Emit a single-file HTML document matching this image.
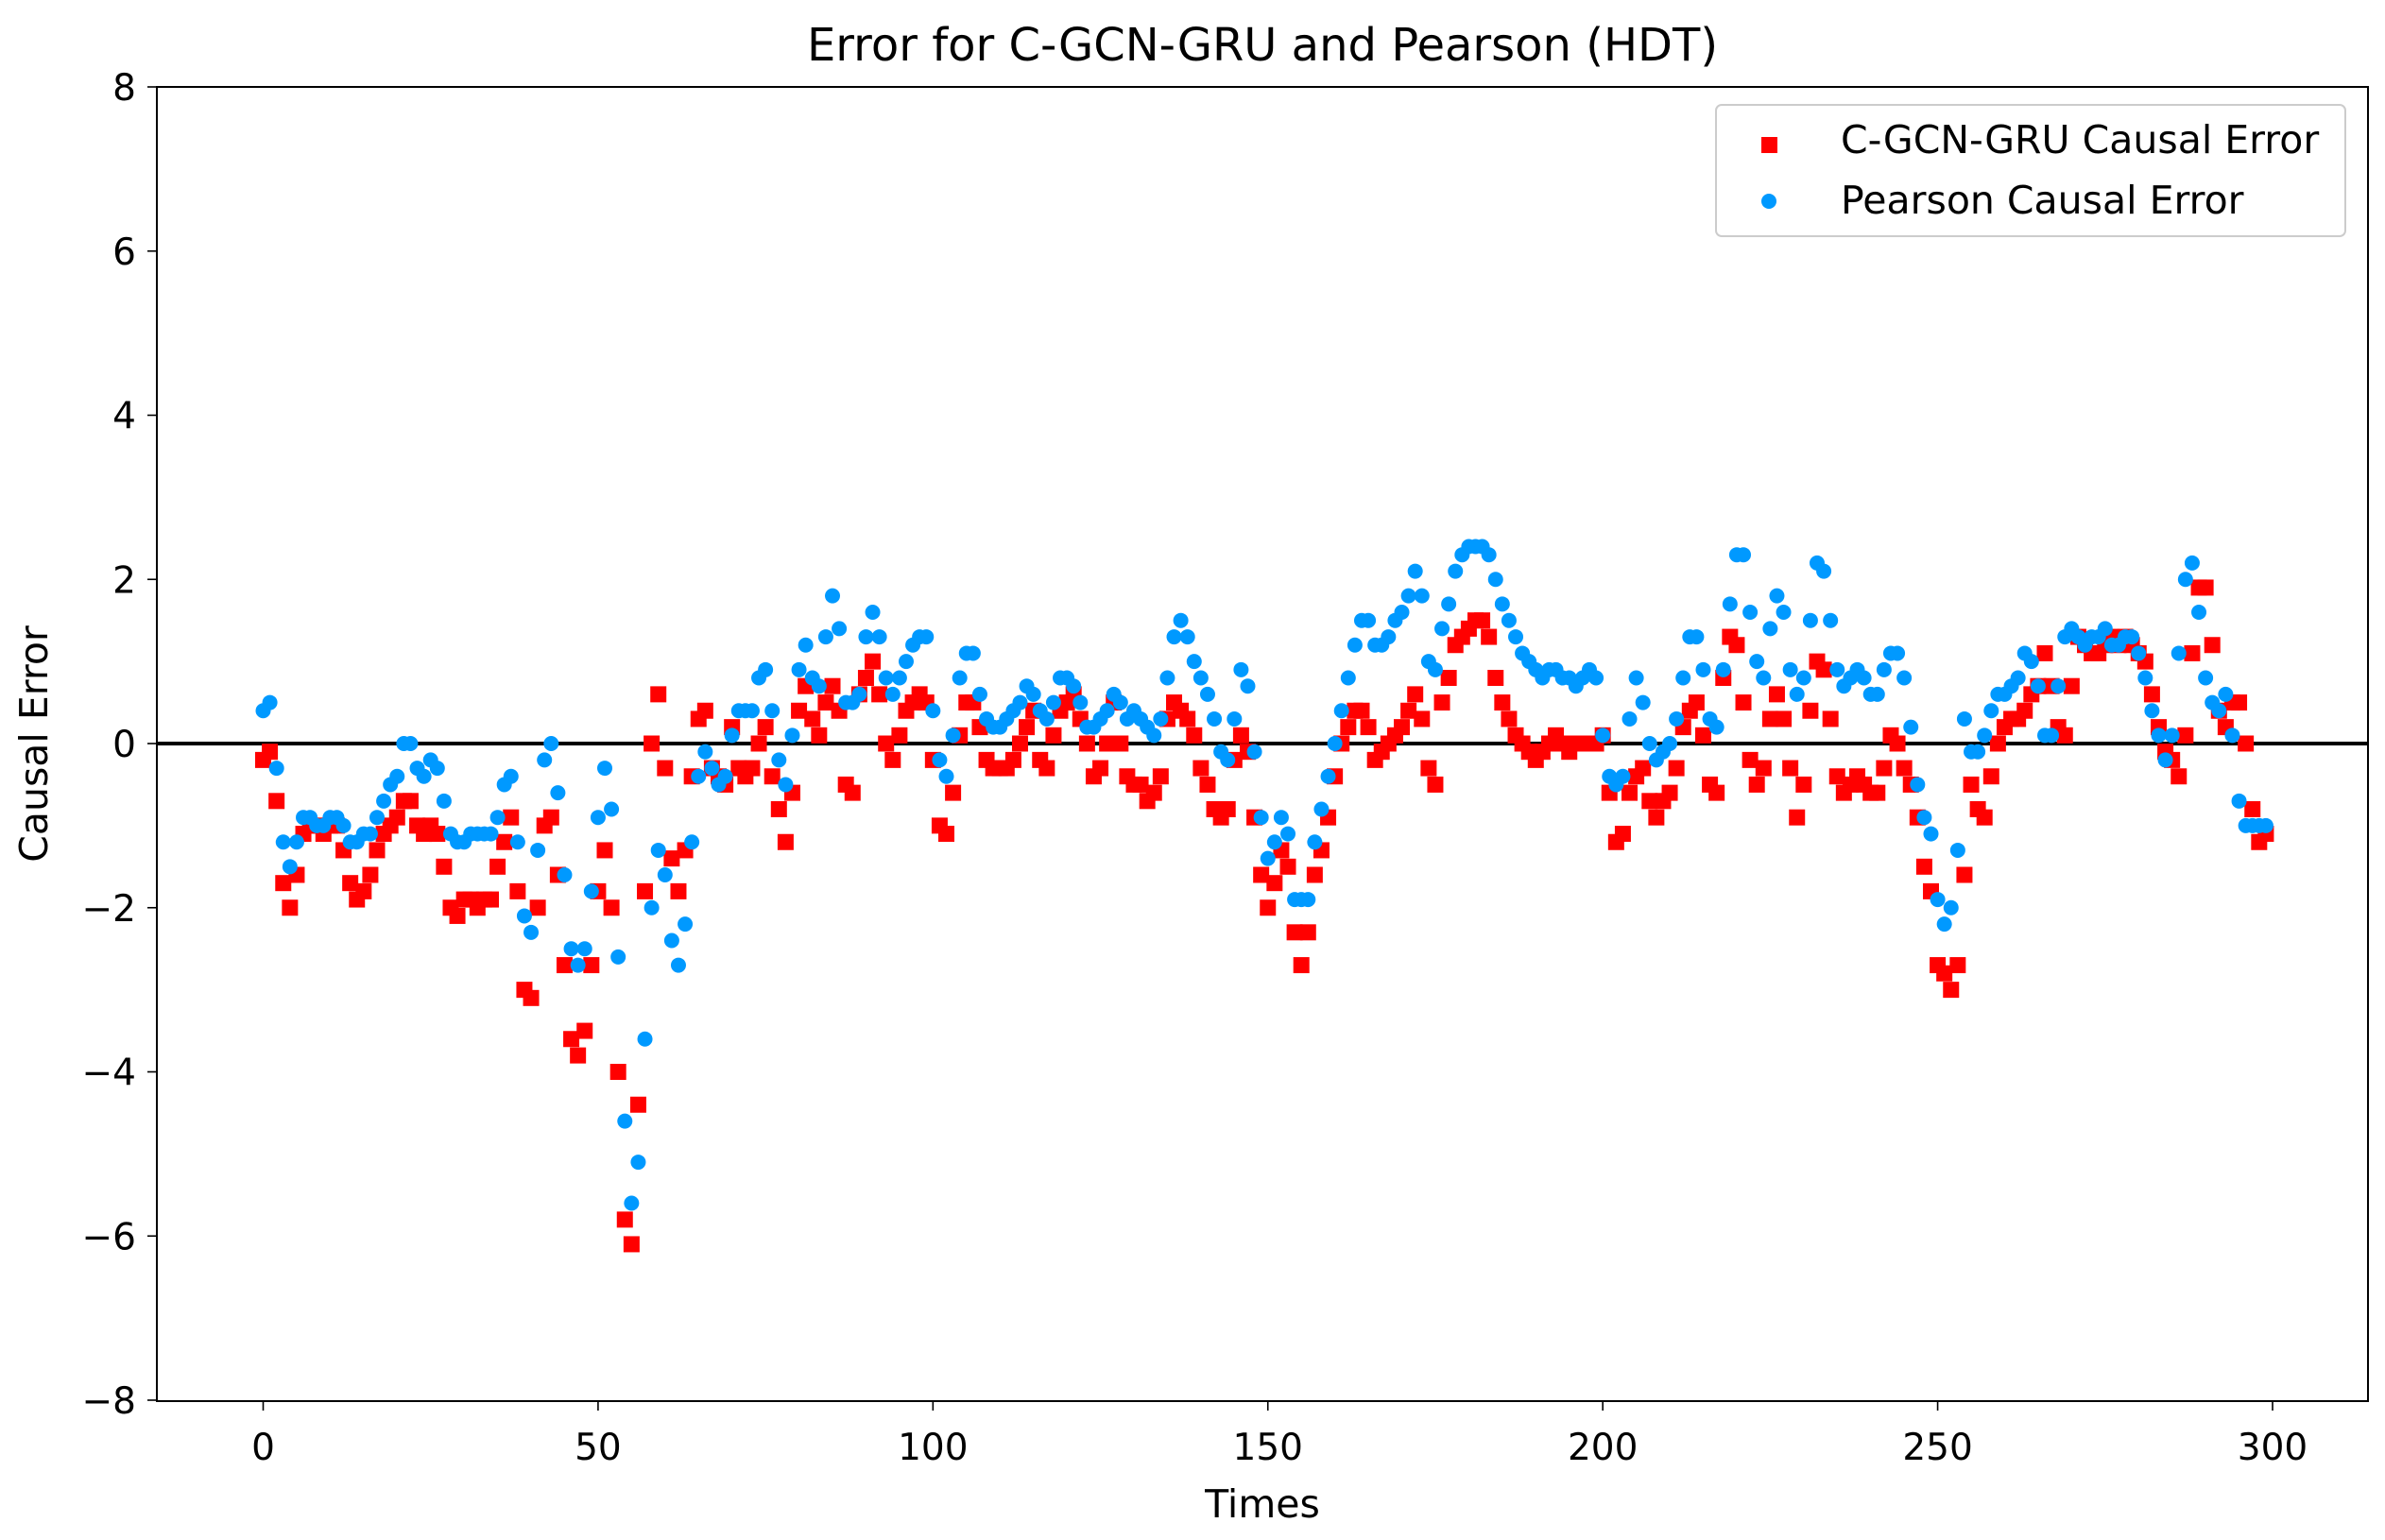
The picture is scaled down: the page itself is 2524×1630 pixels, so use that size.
<!DOCTYPE html>
<html><head><meta charset="utf-8"><style>
html,body{margin:0;padding:0;background:#fff;}
svg{display:block;font-family:"DejaVu Sans","Liberation Sans",sans-serif;}
</style></head><body>
<svg id="chart" width="2524" height="1630" viewBox="0 0 2524 1630"></svg>
<script>
const yTicks=[-8,-6,-4,-2,0,2,4,6,8];
const xTicks=[0,50,100,150,200,250,300];
const cgcnValues=[-0.2,-0.1,-0.7,-1.7,-2.0,-1.6,-1.1,-1.0,-1.0,-1.1,-1.0,-1.0,-1.3,-1.7,-1.9,-1.8,-1.6,-1.3,-1.1,-1.0,-0.9,-0.7,-0.7,-1.0,-1.1,-1.0,-1.1,-1.5,-2.0,-2.1,-1.9,-1.9,-2.0,-1.9,-1.9,-1.5,-1.2,-0.9,-1.8,-3.0,-3.1,-2.0,-1.0,-0.9,-1.6,-2.7,-3.6,-3.8,-3.5,-2.7,-1.8,-1.3,-2.0,-4.0,-5.8,-6.1,-4.4,-1.8,0.0,0.6,-0.3,-1.4,-1.8,-1.3,-0.4,0.3,0.4,-0.3,-0.4,-0.5,0.2,-0.3,-0.4,-0.3,0.0,0.2,-0.4,-0.8,-1.2,-0.6,0.4,0.7,0.3,0.1,0.5,0.7,0.4,-0.5,-0.6,0.6,0.8,1.0,0.6,0.0,-0.2,0.1,0.4,0.5,0.6,0.5,-0.2,-1.0,-1.1,-0.6,0.1,0.5,0.5,0.2,-0.2,-0.3,-0.3,-0.3,-0.2,0.0,0.2,0.4,-0.2,-0.3,0.1,0.4,0.5,0.6,0.3,0.0,-0.4,-0.3,0.0,0.5,0.0,-0.4,-0.5,-0.5,-0.7,-0.6,-0.4,0.3,0.5,0.4,0.3,0.1,-0.3,-0.5,-0.8,-0.9,-0.8,-0.2,0.1,-0.1,-0.9,-1.6,-2.0,-1.7,-1.3,-1.5,-2.3,-2.7,-2.3,-1.6,-1.3,-0.9,-0.4,0.0,0.2,0.4,0.4,0.2,-0.2,-0.1,0.0,0.1,0.2,0.4,0.6,0.3,-0.3,-0.5,0.5,0.8,1.2,1.3,1.4,1.5,1.5,1.3,0.8,0.5,0.3,0.1,0.0,-0.1,-0.2,-0.1,0.0,0.1,0.0,-0.1,0.0,0.0,0.0,0.0,0.1,-0.6,-1.2,-1.1,-0.6,-0.4,-0.3,-0.7,-0.9,-0.7,-0.6,-0.3,0.2,0.4,0.5,0.1,-0.5,-0.6,0.8,1.3,1.2,0.5,-0.2,-0.5,-0.3,0.3,0.6,0.3,-0.3,-0.9,-0.5,0.4,1.0,0.9,0.3,-0.4,-0.6,-0.5,-0.4,-0.5,-0.6,-0.6,-0.3,0.1,0.0,-0.3,-0.5,-0.9,-1.5,-1.8,-2.7,-2.8,-3.0,-2.7,-1.6,-0.5,-0.8,-0.9,-0.4,0.0,0.2,0.3,0.3,0.4,0.6,0.7,1.1,0.7,0.2,0.1,0.7,1.3,1.2,1.1,1.1,1.2,1.3,1.2,1.3,1.2,1.1,1.0,0.6,0.2,-0.1,-0.2,-0.4,0.1,1.1,1.9,1.9,1.2,0.4,0.2,0.5,0.5,0.0,-0.8,-1.2,-1.1];
const pearsonValues=[0.4,0.5,-0.3,-1.2,-1.5,-1.2,-0.9,-0.9,-1.0,-1.0,-0.9,-0.9,-1.0,-1.2,-1.2,-1.1,-1.1,-0.9,-0.7,-0.5,-0.4,0.0,0.0,-0.3,-0.4,-0.2,-0.3,-0.7,-1.1,-1.2,-1.2,-1.1,-1.1,-1.1,-1.1,-0.9,-0.5,-0.4,-1.2,-2.1,-2.3,-1.3,-0.2,0.0,-0.6,-1.6,-2.5,-2.7,-2.5,-1.8,-0.9,-0.3,-0.8,-2.6,-4.6,-5.6,-5.1,-3.6,-2.0,-1.3,-1.6,-2.4,-2.7,-2.2,-1.2,-0.4,-0.1,-0.3,-0.5,-0.4,0.1,0.4,0.4,0.4,0.8,0.9,0.4,-0.2,-0.5,0.1,0.9,1.2,0.8,0.7,1.3,1.8,1.4,0.5,0.5,0.6,1.3,1.6,1.3,0.8,0.6,0.8,1.0,1.2,1.3,1.3,0.4,-0.2,-0.4,0.1,0.8,1.1,1.1,0.6,0.3,0.2,0.2,0.3,0.4,0.5,0.7,0.6,0.4,0.3,0.5,0.8,0.8,0.7,0.5,0.2,0.2,0.3,0.4,0.6,0.5,0.3,0.4,0.3,0.2,0.1,0.3,0.8,1.3,1.5,1.3,1.0,0.8,0.6,0.3,-0.1,-0.2,0.3,0.9,0.7,-0.1,-0.9,-1.4,-1.2,-0.9,-1.1,-1.9,-1.9,-1.9,-1.2,-0.8,-0.4,0.0,0.4,0.8,1.2,1.5,1.5,1.2,1.2,1.3,1.5,1.6,1.8,2.1,1.8,1.0,0.9,1.4,1.7,2.1,2.3,2.4,2.4,2.4,2.3,2.0,1.7,1.5,1.3,1.1,1.0,0.9,0.8,0.9,0.9,0.8,0.8,0.7,0.8,0.9,0.8,0.1,-0.4,-0.5,-0.4,0.3,0.8,0.5,0.0,-0.2,-0.1,0.0,0.3,0.8,1.3,1.3,0.9,0.3,0.2,0.9,1.7,2.3,2.3,1.6,1.0,0.8,1.4,1.8,1.6,0.9,0.6,0.8,1.5,2.2,2.1,1.5,0.9,0.7,0.8,0.9,0.8,0.6,0.6,0.9,1.1,1.1,0.8,0.2,-0.5,-0.9,-1.1,-1.9,-2.2,-2.0,-1.3,0.3,-0.1,-0.1,0.1,0.4,0.6,0.6,0.7,0.8,1.1,1.0,0.7,0.1,0.1,0.7,1.3,1.4,1.3,1.2,1.3,1.3,1.4,1.2,1.2,1.3,1.3,1.1,0.8,0.4,0.1,-0.2,0.1,1.1,2.0,2.2,1.6,0.8,0.5,0.4,0.6,0.1,-0.7,-1.0,-1.0,-1.0,-1.0];

const NS='http://www.w3.org/2000/svg';
const svg=document.getElementById('chart');
const L=166,R=2506,T=92,B=1483;
const xs=v=>278.5+(v/300)*(2405-278.5);
const ys=v=>787-(v/8)*(787-T);
function mk(tag,attrs,parent){const e=document.createElementNS(NS,tag);for(const k in attrs)e.setAttribute(k,attrs[k]);(parent||svg).appendChild(e);return e;}

const title=mk('text',{x:(L+R)/2,y:64,'text-anchor':'middle','font-size':48,fill:'#000'});
title.textContent='Error for C-GCN-GRU and Pearson (HDT)';



const yAxisG=mk('g',{});


yTicks.forEach(t=>{
  const y=ys(t);
  mk('line',{x1:L-10,x2:L,y1:y,y2:y,stroke:'#000','stroke-width':1.6},yAxisG);
  const tx=mk('text',{x:L-22,y:y+14,'text-anchor':'end','font-size':39,fill:'#000'},yAxisG);
  tx.textContent=t<0?'\u2212'+Math.abs(t):String(t);
  
  
});
const xAxisG=mk('g',{});


xTicks.forEach(t=>{
  const x=xs(t);
  mk('line',{x1:x,x2:x,y1:B,y2:B+10,stroke:'#000','stroke-width':1.6},xAxisG);
  const tx=mk('text',{x:x,y:B+62,'text-anchor':'middle','font-size':39,fill:'#000'},xAxisG);
  tx.textContent=String(t);
  
  
});
const xl=mk('text',{x:(L+R)/2,y:1606,'text-anchor':'middle','font-size':41,fill:'#000'});
xl.textContent='Times';


const yl=mk('text',{x:0,y:0,'text-anchor':'middle','font-size':41,fill:'#000',transform:'translate(50,'+((T+B)/2)+') rotate(-90)'});
yl.textContent='Causal Error';



const zl=mk('line',{x1:L,x2:R,y1:ys(0),y2:ys(0),stroke:'#000','stroke-width':4});



const redG=mk('g',{});


cgcnValues.forEach((v,i)=>{
  const r=mk('rect',{x:xs(i)-8.5,y:ys(v)-8.5,width:17,height:17,fill:'#ff0000'},redG);
  
  
});
const blueG=mk('g',{});


pearsonValues.forEach((v,i)=>{
  const c=mk('circle',{cx:xs(i),cy:ys(v),r:8,fill:'#0099ff'},blueG);
  
  
});

const frame=mk('rect',{x:L,y:T,width:R-L,height:B-T,fill:'none',stroke:'#000','stroke-width':2});



const lg=mk('g',{});


mk('rect',{x:1816,y:111,width:666,height:139,rx:6,fill:'#fff',stroke:'#ccc','stroke-width':2},lg);
const lr=mk('rect',{x:1864,y:145,width:17,height:17,fill:'#ff0000'},lg);


const lt1=mk('text',{x:1948,y:162,'font-size':41,fill:'#000'},lg);
lt1.textContent='C-GCN-GRU Causal Error';


const lc=mk('circle',{cx:1872,cy:213,r:8,fill:'#0099ff'},lg);


const lt2=mk('text',{x:1948,y:226,'font-size':41,fill:'#000'},lg);
lt2.textContent='Pearson Causal Error';


</script>
</body></html>
